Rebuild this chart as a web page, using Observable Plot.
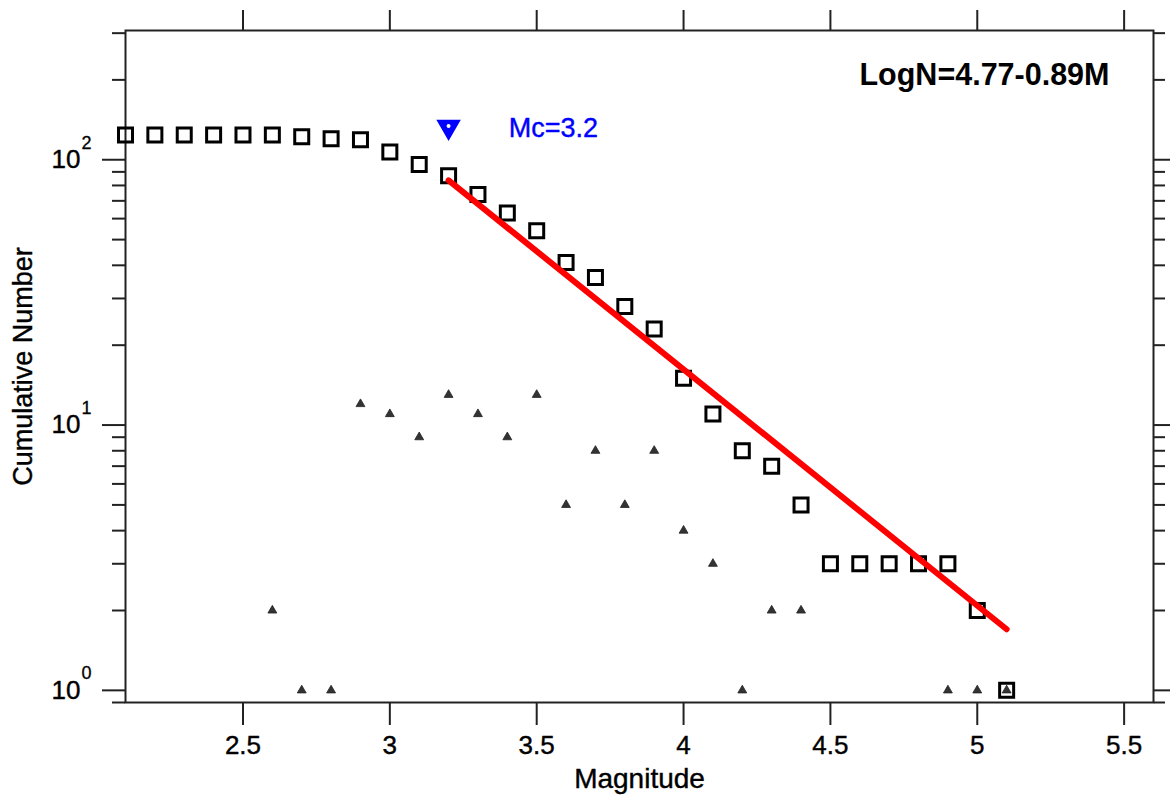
<!DOCTYPE html>
<html>
<head>
<meta charset="utf-8">
<script src="https://cdn.jsdelivr.net/npm/d3@7"></script>
<script src="https://cdn.jsdelivr.net/npm/@observablehq/plot@0.6"></script>
<style>
  html, body { margin: 0; padding: 0; background: #fff; }
  #chart { width: 1170px; height: 800px; }
</style>
</head>
<body>
<div id="chart"></div>
<script>
// Cumulative number of events N(M >= m)
const magnitudes = [2.1, 2.2, 2.3, 2.4, 2.5, 2.6, 2.7, 2.8, 2.9, 3.0, 3.1, 3.2, 3.3, 3.4, 3.5, 3.6,
                    3.7, 3.8, 3.9, 4.0, 4.1, 4.2, 4.3, 4.4, 4.5, 4.6, 4.7, 4.8, 4.9, 5.0, 5.1];
const cumulativeCounts = [124, 124, 124, 124, 124, 124, 122, 120, 119, 107, 96, 87, 74, 63, 54, 41,
                          36, 28, 23, 15, 11, 8, 7, 5, 3, 3, 3, 3, 3, 2, 1];

// Non-cumulative number of events per magnitude bin
const binMagnitudes = [2.6, 2.7, 2.8, 2.9, 3.0, 3.1, 3.2, 3.3, 3.4, 3.5, 3.6, 3.7, 3.8, 3.9, 4.0,
                       4.1, 4.2, 4.3, 4.4, 4.9, 5.0, 5.1];
const binCounts = [2, 1, 1, 12, 11, 9, 13, 11, 9, 13, 5, 8, 5, 8, 4, 3, 1, 2, 2, 1, 1, 1];

// Gutenberg-Richter fit LogN = 4.77 - 0.89M, drawn from Mc to max magnitude
const fitMagnitudes = [3.2, 5.1];
const fitCounts = [83.6, 1.70];
const fitLabel = "LogN=4.77-0.89M";

// Magnitude of completeness
const mcValues = [3.2];
const mcMarkerCounts = [133];
const mcLabel = "Mc=3.2";

// Axis ticks
const xTicks = [2.5, 3, 3.5, 4, 4.5, 5, 5.5];
const xTickLabels = ["2.5", "3", "3.5", "4", "4.5", "5", "5.5"];
const yMajorTicks = [1, 10, 100];
const yMajorExponents = ["0", "1", "2"];
const yMinorTicks = [0.9, 2, 3, 4, 5, 6, 7, 8, 9, 20, 30, 40, 50, 60, 70, 80, 90, 200, 300];
const xTitle = "Magnitude";
const yTitle = "Cumulative Number";

const font = "'Liberation Sans', Arial, Helvetica, sans-serif";
const ink = "#222";

const chart = Plot.plot({
  width: 1170,
  height: 800,
  marginLeft: 125,
  marginRight: 17,
  marginTop: 30,
  marginBottom: 98,
  style: { fontFamily: font, fontSize: "26px", background: "#fff", color: ink },
  x: { domain: [2.1, 5.6] },
  y: { type: "log", domain: [0.9, 307] },
  marks: [
    Plot.frame({ stroke: ink, strokeWidth: 2 }),
    // bottom axis with labels
    Plot.axisX(xTicks, {
      anchor: "bottom", tickSize: 23, tickPadding: 10, strokeWidth: 2, stroke: ink, fill: "#000",
      tickFormat: (d) => xTickLabels[xTicks.indexOf(d)], fontSize: 26, label: null,
      textStroke: "#000", textStrokeWidth: 0.4
    }),
    // top axis ticks only
    Plot.axisX(xTicks, { anchor: "top", tickSize: 21, strokeWidth: 2, stroke: ink, fill: "none", label: null }),
    // left y ticks
    Plot.axisY(yMajorTicks, { anchor: "left", tickSize: 23, strokeWidth: 2, stroke: ink, fill: "none", label: null }),
    Plot.axisY(yMinorTicks, { anchor: "left", tickSize: 13, strokeWidth: 2, stroke: ink, fill: "none", label: null }),
    // right y ticks
    Plot.axisY(yMajorTicks, { anchor: "right", tickSize: 17, strokeWidth: 2, stroke: ink, fill: "none", label: null }),
    Plot.axisY(yMinorTicks, { anchor: "right", tickSize: 11, strokeWidth: 2, stroke: ink, fill: "none", label: null }),
    // y tick labels 10^k
    Plot.text(yMajorTicks, {
      y: (d) => d, text: () => "10", frameAnchor: "left", dx: -45, textAnchor: "end",
      lineAnchor: "middle", fontSize: 26, fill: "#000", stroke: "#000", strokeWidth: 0.4
    }),
    Plot.text(yMajorTicks, {
      y: (d) => d, text: (d, i) => yMajorExponents[i], frameAnchor: "left", dx: -44, dy: -17,
      textAnchor: "start", lineAnchor: "middle", fontSize: 18, fill: "#000", stroke: "#000", strokeWidth: 0.3
    }),
    // axis titles
    Plot.text([xTitle], {
      text: (d) => d, frameAnchor: "bottom", dy: 77, textAnchor: "middle", lineAnchor: "middle",
      fontSize: 28, fill: "#000", stroke: "#000", strokeWidth: 0.4
    }),
    Plot.text([yTitle], {
      text: (d) => d, frameAnchor: "left", dx: -102, rotate: -90, textAnchor: "middle", lineAnchor: "middle",
      fontSize: 27, fill: "#000", stroke: "#000", strokeWidth: 0.4
    }),
    // non-cumulative counts (small triangles)
    Plot.dot(binMagnitudes, {
      x: (d) => d, y: (d, i) => binCounts[i], symbol: "triangle", r: 3.3,
      fill: "#333", stroke: "#222", strokeWidth: 0.8
    }),
    // cumulative counts (open squares)
    Plot.dot(magnitudes, {
      x: (d) => d, y: (d, i) => cumulativeCounts[i], symbol: "square", r: 7.9,
      fill: "none", stroke: "#000", strokeWidth: 3
    }),
    // G-R fit line
    Plot.line(fitMagnitudes, {
      x: (d) => d, y: (d, i) => fitCounts[i], stroke: "#ff0000", strokeWidth: 6
    }),
    // Mc marker
    Plot.dot(mcValues, {
      x: (d) => d, y: (d, i) => mcMarkerCounts[i], symbol: "triangle", rotate: 180, r: 7.8,
      fill: "#0000ff", stroke: "#0000ff", strokeWidth: 2
    }),
    Plot.dot(mcValues, {
      x: (d) => d, y: (d, i) => mcMarkerCounts[i], r: 2, fill: "#fff", stroke: "none", dy: -1
    }),
    Plot.text([mcLabel], {
      x: () => 3.405, y: () => 131, text: (d) => d, textAnchor: "start", lineAnchor: "middle",
      fontSize: 27, fill: "#0000ff", stroke: "#0000ff", strokeWidth: 0.4
    }),
    // fit equation
    Plot.text([fitLabel], {
      text: (d) => d, frameAnchor: "top-right", dx: -44, dy: 45, textAnchor: "end", lineAnchor: "middle",
      fontSize: 30.5, fontWeight: "bold", fill: "#000"
    })
  ]
});

document.getElementById("chart").appendChild(chart);
</script>
</body>
</html>
